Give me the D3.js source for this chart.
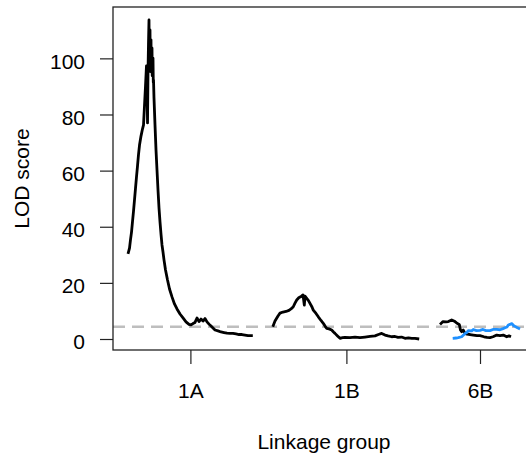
<!DOCTYPE html>
<html>
<head>
<meta charset="utf-8">
<script src="https://cdn.jsdelivr.net/npm/d3@7"></script>
<style>
  body { margin: 0; background: #fff; }
  text { font-family: "Liberation Sans", Arial, sans-serif; }
</style>
</head>
<body>
<div id="chart-area"></div>
<script>
const width = 526;
const height = 457;

// linkage groups and their lengths (cM); 25 cM drawn between groups
const chrNames = ["1A", "1B", "6B"];
const chrLengths = [156, 184, 100];
const chrGap = 25;
const threshold = 4.4;
const yTicks = [0, 20, 40, 60, 80, 100];

// positions are cumulative cM along the x axis
const pos1A = [0, 1.9, 3.1, 4.4, 5.6, 6.9, 8.1, 9.4, 10.6, 11.9, 13.1, 14.4, 16.25, 18.1, 19.4,
    20.6, 21.9, 23.1, 23.75, 24.4, 25, 25.6, 26.25, 26.6, 26.9, 27.2, 27.5, 27.8, 28.1, 28.4,
    28.75, 29.1, 29.4, 29.7, 30, 30.3, 30.6, 30.9, 31.25, 31.6, 31.9, 32.5, 33.75, 35, 36.25,
    37.5, 38.75, 40, 41.25, 42.5, 43.75, 45, 46.9, 49.4,
    51.9, 55, 58.1, 61.25, 65, 68.75, 72.5, 76.25, 78.75, 81.25, 83.75, 86.25, 88.75, 91.25,
    93.75, 96.25, 98.75, 101.25, 103.75, 106.25, 108.75, 112.5, 116.25, 120, 123.75, 127.5,
    131.25, 135, 138.75, 142.5, 146.25, 150, 156];
const lod1A = [30.3, 32.4, 35.3, 38.1, 41.7, 45.6, 49.5, 53.8, 57.7, 61.7, 65.6, 69.1, 72.3, 74.8, 76.3,
    83, 90.2, 97.3, 93.7, 77, 95.2, 104.8, 113.7, 98.5, 102.3, 95.4, 110.1, 97.2, 96.6, 104.2,
    106.6, 95.1, 98.7, 101.8, 103.7, 93.8, 94.4, 99.6, 100.1, 91.5, 92.3, 85.9, 76.3, 67.4, 60.2,
    53.1, 46.7, 41.7, 37.4, 33.5, 31, 28.2, 24.6, 21,
    17.8, 15, 12.5, 10.7, 8.9, 7.5, 6.1, 5.2, 5, 5.5, 5.9, 7.5, 6.2, 7.1,
    6.4, 7.3, 6.1, 5.3, 4.6, 3.9, 3.2, 2.9, 2.5, 2.3, 2.1, 2,
    2, 1.8, 1.6, 1.6, 1.4, 1.2, 1.2];

const pos1B = [181, 183.75, 187.5, 190, 193.75, 197.5, 201.25, 203.75, 206.6, 208.75, 210.9, 213.75,
    216.25, 218.75, 220.4, 221.25, 223.4, 225.6, 227.5, 230, 231.6, 235, 237.9, 241.25, 244.1,
    246.25, 248.4, 251.25, 254.6, 256.9, 258.75, 261.9, 265, 268.1, 271.25, 277.5, 283.75, 290,
    296.25, 302.5, 308.75, 313.1, 317.1, 321.25, 325, 329.6, 333.75, 337.5, 341.9, 346.25,
    350.6, 354.6, 358.75, 364];
const lod1B = [4.4, 6.4, 8.2, 9.2, 9.6, 9.8, 10.2, 10.7, 11.5, 12.8, 13.9, 14.8,
    15.1, 15.7, 12.1, 15.3, 14.5, 13.7, 12.7, 11.4, 10.3, 9.1, 7.9, 6.6, 5.6,
    4.6, 3.8, 3.6, 3.2, 2.5, 2, 1.1, 0.25, 0.5, 0.6, 0.5, 0.7, 0.5,
    0.7, 0.9, 1.1, 1.6, 2, 1.4, 1.1, 0.8, 0.9, 0.6, 0.7, 0.25,
    0.4, 0.25, 0.2, 0];

const pos6B = [390, 393.75, 397.5, 400.4, 404.6, 408.75, 411.25, 414.1, 415.6, 417.1, 419.1, 421.25,
    423.75, 427.5, 431.6, 436.25, 440, 445, 448.75, 452.5, 456.25, 460.9, 465, 469.1, 473.4,
    476.25, 478.75];
const lod6B = [5.2, 6.2, 6.1, 6.2, 6.8, 6.2, 5.6, 5.2, 3.2, 2.6, 3.2, 2,
    1.7, 1.6, 1.4, 1.2, 1.2, 0.8, 0.6, 0.5, 0.8, 1.4, 1.2, 1.4, 0.8,
    1.1, 0.8];

// second scan on 6B (blue)
const pos6Bb = [405.9, 410, 412.9, 417.1, 419.4, 421.25, 423.4, 425.4, 429.6, 431.6, 435.6, 440,
    443.75, 447.5, 452.5, 456.25, 460.9, 465, 468.75, 471.25, 473.75, 475.4, 477.5, 479.6,
    481.9, 483.75, 486.25, 490];
const lod6Bb = [0.25, 0.35, 0.5, 0.8, 1.4, 2, 2.3, 3, 2.9, 3.4, 3, 3.1,
    3.4, 3, 3, 3.4, 3.4, 3.3, 3.7, 4, 4.3, 5, 5.2, 5.5,
    4.8, 4.5, 4.1, 3.6];

const chrStart = [];
let acc = 0;
chrLengths.forEach(len => { chrStart.push(acc); acc += len + chrGap; });
const totalLen = acc - chrGap;
const chrMid = chrLengths.map((len, i) => chrStart[i] + len / 2);

const margin = {left: 113, top: 7, right: -9, bottom: 107};

const svg = d3.select("#chart-area")
    .append("svg")
    .attr("width", width)
    .attr("height", height);

const x = d3.scaleLinear()
    .domain([-chrGap * 0.75, totalLen + chrGap * 0.75])
    .range([margin.left, width - margin.right]);

const y = d3.scaleLinear()
    .domain([-3.92, 118.3])
    .range([height - margin.bottom, margin.top]);

// threshold
svg.append("line")
    .attr("x1", x.range()[0]).attr("x2", x.range()[1])
    .attr("y1", y(threshold)).attr("y2", y(threshold))
    .attr("stroke", "#bebebe")
    .attr("stroke-width", 2.5)
    .attr("stroke-dasharray", "12,7");

const line = d3.line()
    .x(d => x(d[0]))
    .y(d => y(d[1]));

const blackSeries = [[pos1A, lod1A], [pos1B, lod1B], [pos6B, lod6B]];
blackSeries.forEach(s => {
    svg.append("path")
        .datum(d3.zip(s[0], s[1]))
        .attr("fill", "none")
        .attr("stroke", "#000")
        .attr("stroke-width", 2.8)
        .attr("stroke-linejoin", "round")
        .attr("d", line);
});

svg.append("path")
    .datum(d3.zip(pos6Bb, lod6Bb))
    .attr("fill", "none")
    .attr("stroke", "#1e90ff")
    .attr("stroke-width", 2.8)
    .attr("stroke-linejoin", "round")
    .attr("d", line);

// axes
const yAxis = svg.append("g")
    .attr("transform", `translate(${margin.left},0)`)
    .call(d3.axisLeft(y).tickValues(yTicks).tickSize(13).tickPadding(15));
yAxis.select(".domain").remove();
yAxis.selectAll("line").attr("stroke", "#222").attr("stroke-width", 1.2);
yAxis.selectAll("text")
    .attr("dy", "0.47em")
    .style("font-size", "21px")
    .attr("fill", "#000");

const xAxis = svg.append("g")
    .attr("transform", `translate(0,${height - margin.bottom})`)
    .call(d3.axisBottom(x).tickValues(chrMid).tickFormat((d, i) => chrNames[i])
        .tickSize(14).tickPadding(19));
xAxis.select(".domain").remove();
xAxis.selectAll("line").attr("stroke", "#222").attr("stroke-width", 1.2);
xAxis.selectAll("text")
    .style("font-size", "21px")
    .attr("fill", "#000");

// plot box
svg.append("rect")
    .attr("x", x.range()[0])
    .attr("y", margin.top)
    .attr("width", x.range()[1] - x.range()[0])
    .attr("height", y.range()[0] - margin.top)
    .attr("fill", "none")
    .attr("stroke", "#222")
    .attr("stroke-width", 1.3);

svg.append("text")
    .attr("x", (x.range()[0] + x.range()[1]) / 2)
    .attr("y", 449)
    .attr("text-anchor", "middle")
    .style("font-size", "21px")
    .text("Linkage group");

svg.append("text")
    .attr("transform", `translate(29,${(y.range()[0] + margin.top) / 2}) rotate(-90)`)
    .attr("text-anchor", "middle")
    .style("font-size", "21px")
    .text("LOD score");
</script>
</body>
</html>
